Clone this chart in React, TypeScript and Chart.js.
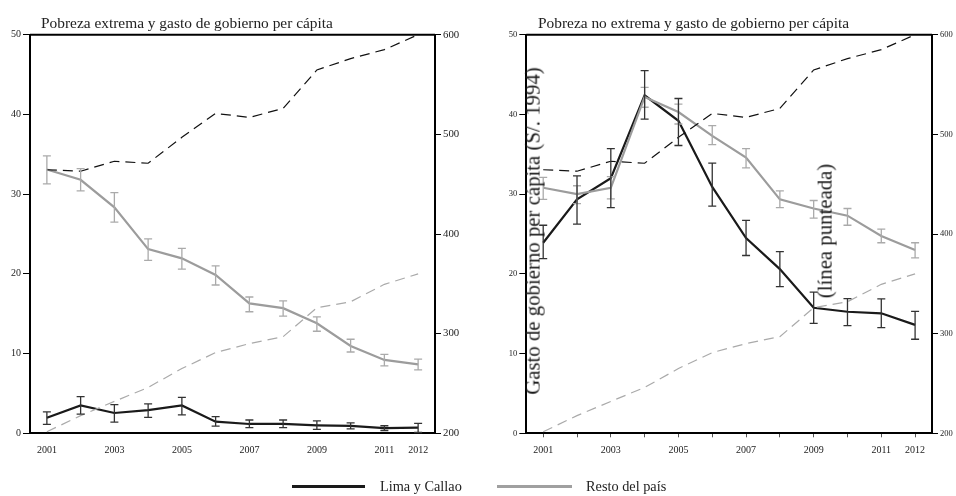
import React, { useEffect, useRef } from "react";
import { Chart, registerables } from "chart.js";
Chart.register(...registerables);

const FONT = "'Liberation Serif', 'DejaVu Serif', serif";

const years = [2001, 2002, 2003, 2004, 2005, 2006, 2007, 2008, 2009, 2010, 2011, 2012];
const labeledYears = [2001, 2003, 2005, 2007, 2009, 2011, 2012];

// Pobreza extrema (%)
const limaExt = [1.96, 3.5, 2.55, 2.9, 3.5, 1.46, 1.17, 1.17, 1.0, 0.92, 0.66, 0.7];
const limaExtLo = [1.13, 2.4, 1.4, 2.0, 2.3, 0.9, 0.7, 0.7, 0.5, 0.55, 0.35, 0.1];
const limaExtHi = [2.7, 4.6, 3.6, 3.7, 4.5, 2.1, 1.67, 1.67, 1.55, 1.3, 0.95, 1.25];
const restoExt = [33.1, 31.8, 28.35, 23.1, 21.95, 19.86, 16.3, 15.7, 13.8, 10.95, 9.2, 8.65];
const restoExtLo = [31.3, 30.4, 26.5, 21.7, 20.6, 18.6, 15.25, 14.7, 12.8, 10.2, 8.45, 7.95];
const restoExtHi = [34.8, 33.2, 30.2, 24.4, 23.2, 21.0, 17.1, 16.6, 14.6, 11.8, 9.9, 9.3];

// Pobreza no extrema (%)
const limaNoExt = [23.9, 29.35, 32.0, 42.4, 39.2, 30.9, 24.5, 20.6, 15.75, 15.25, 15.05, 13.6];
const limaNoExtLo = [21.9, 26.25, 28.3, 39.4, 36.1, 28.5, 22.3, 18.4, 13.8, 13.5, 13.25, 11.8];
const limaNoExtHi = [26.1, 32.3, 35.7, 45.5, 42.0, 33.9, 26.7, 22.8, 17.7, 16.9, 16.85, 15.3];
const restoNoExt = [30.8, 30.0, 30.8, 42.2, 40.3, 37.3, 34.6, 29.35, 28.2, 27.3, 24.75, 23.0];
const restoNoExtLo = [29.35, 28.8, 29.4, 40.9, 38.8, 36.2, 33.3, 28.3, 27.0, 26.1, 23.9, 22.0];
const restoNoExtHi = [32.1, 31.05, 32.2, 43.4, 41.3, 38.6, 35.7, 30.4, 29.2, 28.2, 25.6, 23.9];

// Gasto de gobierno per cápita (S/. 1994)
const gastoLima = [464.5, 463, 473, 471, 497, 521, 517, 526, 564.6, 576, 585, 600];
const gastoResto = [201.6, 217.7, 232, 246, 265, 281, 290, 297, 326, 332, 349.5, 360];

const pts = (arr: number[]) => years.map((y, i) => ({ x: y, y: arr[i] }));

type PanelProps = {
  title: string;
  lima: number[]; limaLo: number[]; limaHi: number[];
  resto: number[]; restoLo: number[]; restoHi: number[];
  leftW: number; rightW: number; xTicks: boolean; yFont: number; y1Font: number; titleX: number;
};

function Panel(p: PanelProps) {
  const ref = useRef<HTMLCanvasElement>(null);
  useEffect(() => {
    if (!ref.current) return;
    const errPlugin = {
      id: "errbars",
      afterDatasetsDraw(chart: any) {
        const ctx = chart.ctx;
        const xs = chart.scales.x;
        const ys = chart.scales.y;
        chart.data.datasets.forEach((ds: any) => {
          if (!ds.errLo) return;
          ctx.save();
          ctx.strokeStyle = ds.errColor;
          ctx.lineWidth = 1.3;
          years.forEach((yr, i) => {
            const x = xs.getPixelForValue(yr);
            const y1 = ys.getPixelForValue(ds.errLo[i]);
            const y2 = ys.getPixelForValue(ds.errHi[i]);
            ctx.beginPath();
            ctx.moveTo(x, y1); ctx.lineTo(x, y2);
            ctx.moveTo(x - 4, y1); ctx.lineTo(x + 4, y1);
            ctx.moveTo(x - 4, y2); ctx.lineTo(x + 4, y2);
            ctx.stroke();
          });
          ctx.restore();
        });
        const a = chart.chartArea;
        ctx.save();
        ctx.strokeStyle = "#000";
        ctx.lineWidth = 2;
        ctx.beginPath();
        ctx.moveTo(a.left, a.top); ctx.lineTo(a.right, a.top);
        ctx.stroke();
        ctx.fillStyle = "#222";
        ctx.font = `15.4px ${FONT}`;
        ctx.textBaseline = "alphabetic";
        ctx.fillText(p.title, p.titleX, 27.5);
        ctx.restore();
      },
    };
    const chart = new Chart(ref.current, {
      type: "line",
      data: {
        datasets: [
          { label: "Gasto Lima", data: pts(gastoLima), yAxisID: "y1", borderColor: "#111", borderWidth: 1.2, borderDash: [10, 6], pointRadius: 0, tension: 0 } as any,
          { label: "Gasto Resto", data: pts(gastoResto), yAxisID: "y1", borderColor: "#aaa", borderWidth: 1.2, borderDash: [10, 6], pointRadius: 0, tension: 0 } as any,
          { label: "Resto del país", data: pts(p.resto), yAxisID: "y", borderColor: "#9c9c9c", borderWidth: 2.2, pointRadius: 0, errLo: p.restoLo, errHi: p.restoHi, errColor: "#aaaaaa" } as any,
          { label: "Lima y Callao", data: pts(p.lima), yAxisID: "y", borderColor: "#1a1a1a", borderWidth: 2.2, pointRadius: 0, errLo: p.limaLo, errHi: p.limaHi, errColor: "#333333" } as any,
        ],
      },
      options: {
        animation: false,
        responsive: false,
        layout: { padding: { top: 34.7, left: 0, right: 0, bottom: 0 } },
        plugins: { legend: { display: false }, tooltip: { enabled: false }, title: { display: false } },
        scales: {
          x: {
            type: "linear", min: 2000.5, max: 2012.5,
            afterBuildTicks: (s: any) => { s.ticks = years.map((v) => ({ value: v })); },
            afterFit: (s: any) => { s.height = 62.7; },
            ticks: {
              autoSkip: false, maxRotation: 0, padding: p.xTicks ? 7 : 11,
              callback: (v: any) => (labeledYears.includes(Number(v)) ? String(v) : ""),
              font: { family: FONT, size: 10 }, color: "#222",
            },
            grid: { drawOnChartArea: false, drawTicks: p.xTicks, tickLength: 4, color: "#555" },
            border: { color: "#000", width: 2 },
          },
          y: {
            position: "left", min: 0, max: 50,
            afterFit: (s: any) => { s.width = p.leftW; },
            ticks: { stepSize: 10, padding: 2, font: { family: FONT, size: p.yFont }, color: "#222" },
            grid: { drawOnChartArea: false, tickLength: 7, color: "#000" },
            border: { color: "#000", width: 2 },
          },
          y1: {
            position: "right", min: 200, max: 600,
            afterFit: (s: any) => { s.width = p.rightW; },
            ticks: { stepSize: 100, padding: 2, font: { family: FONT, size: p.y1Font }, color: "#222" },
            grid: { drawOnChartArea: false, tickLength: 6, color: "#000" },
            border: { color: "#000", width: 2 },
          },
        },
      } as any,
      plugins: [errPlugin],
    });
    return () => chart.destroy();
  }, []);
  return <canvas ref={ref} width={478} height={496} style={{ width: 478, height: 496, display: "block" }} />;
}

export default function App() {
  const rot = (cx: number, cy: number): React.CSSProperties => ({
    position: "absolute", left: cx, top: cy, transform: "translate(-50%, -50%) rotate(-90deg)",
    whiteSpace: "nowrap", fontFamily: FONT, fontSize: 20.8, color: "#1a1a1a", lineHeight: 1,
  });
  const legendText: React.CSSProperties = {
    position: "absolute", top: 478, fontFamily: FONT, fontSize: 14.3, color: "#222", whiteSpace: "nowrap", lineHeight: "16px",
  };
  return (
    <div style={{ position: "fixed", left: 0, top: 0, width: 956, height: 496, background: "#fff", overflow: "hidden" }}>
      <div style={{ position: "absolute", left: 0, top: 0 }}>
        <Panel title="Pobreza extrema y gasto de gobierno per cápita"
          lima={limaExt} limaLo={limaExtLo} limaHi={limaExtHi}
          resto={restoExt} restoLo={restoExtLo} restoHi={restoExtHi}
          leftW={30} rightW={43} xTicks={false} yFont={10} y1Font={10.8} titleX={41} />
      </div>
      <div style={{ position: "absolute", left: 478, top: 0 }}>
        <Panel title="Pobreza no extrema y gasto de gobierno per cápita"
          lima={limaNoExt} limaLo={limaNoExtLo} limaHi={limaNoExtHi}
          resto={restoNoExt} restoLo={restoNoExtLo} restoHi={restoNoExtHi}
          leftW={48.3} rightW={24} xTicks={true} yFont={8.5} y1Font={8.5} titleX={60} />
      </div>
      <div style={rot(533, 231)}>Gasto de gobierno per cápita (S/. 1994)</div>
      <div style={rot(825, 231)}>(línea punteada)</div>
      <div style={{ position: "absolute", left: 292, top: 485, width: 73, height: 3, background: "#1a1a1a" }} />
      <div style={{ ...legendText, left: 380 }}>Lima y Callao</div>
      <div style={{ position: "absolute", left: 497, top: 485, width: 75, height: 3, background: "#a0a0a0" }} />
      <div style={{ ...legendText, left: 586 }}>Resto del país</div>
    </div>
  );
}
